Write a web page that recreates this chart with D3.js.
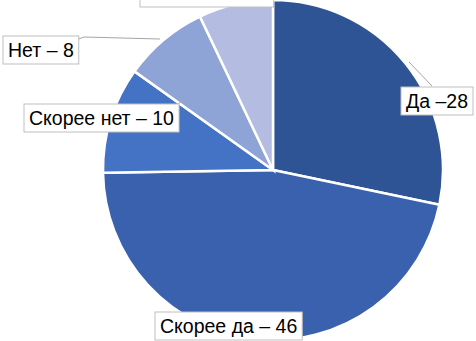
<!DOCTYPE html>
<html>
<head>
<meta charset="utf-8">
<script src="https://cdn.jsdelivr.net/npm/d3@7"></script>
<style>
  body { margin: 0; background: #fff; }
  svg { display: block; }
</style>
</head>
<body>
<svg id="chart" width="476" height="341"></svg>
<script>
// data
const categories = ["Да", "Скорее да", "Скорее нет", "Нет", "Затрудняюсь"];
const values = [28, 46, 10, 8, 7];
const labels = ["Да –28", "Скорее да – 46", "Скорее нет – 10", "Нет – 8", "Затрудняюсь – 7"];
const colors = ["#2f5496", "#3a61ad", "#4472c4", "#8ea3d6", "#b4bde1"];

// label layout (box left x, text baseline y, font size) and leader lines
const labelPos = [[401, 108, 19.5], [155, 333, 19.5], [24, 125, 19.5], [3, 57, 19.5], [140, -9, 16]];
const leaders = [
  [[432, 86], [409, 62]],
  null,
  [[178, 104], [183, 100]],
  [[76, 40], [84, 37], [160, 39]],
  null
];

const svg = d3.select("#chart");
const cx = 273, cy = 170, r = 170;

const pie = d3.pie().sort(null).value(d => d)(values);
const arc = d3.arc().innerRadius(0).outerRadius(r);

const g = svg.append("g").attr("transform", "translate(" + cx + "," + cy + ")");
g.selectAll("path")
  .data(pie)
  .enter()
  .append("path")
    .attr("d", arc)
    .attr("fill", (d, i) => colors[i])
    .attr("stroke", "#fff")
    .attr("stroke-width", 2.5);

// leader lines
leaders.forEach(l => {
  if (!l) return;
  svg.append("polyline")
    .attr("points", l.map(p => p.join(",")).join(" "))
    .attr("fill", "none")
    .attr("stroke", "#a6a6a6")
    .attr("stroke-width", 1);
});

// label boxes
labels.forEach((t, i) => {
  const lg = svg.append("g");
  const rect = lg.append("rect");
  const txt = lg.append("text")
    .attr("x", labelPos[i][0] + 5)
    .attr("y", labelPos[i][1])
    .style("font-family", "'Liberation Sans', Arial, sans-serif")
    .style("font-size", labelPos[i][2] + "px")
    .attr("fill", "#000")
    .text(t);
  const bb = txt.node().getBBox();
  const extra = i === 4 ? 10 : 0;
  rect.attr("x", labelPos[i][0])
    .attr("y", bb.y - 3)
    .attr("width", bb.width + 10)
    .attr("height", bb.height + 6 + extra)
    .attr("fill", "#fff")
    .attr("stroke", "#bfbfbf")
    .attr("stroke-width", 1);
});
</script>
</body>
</html>
